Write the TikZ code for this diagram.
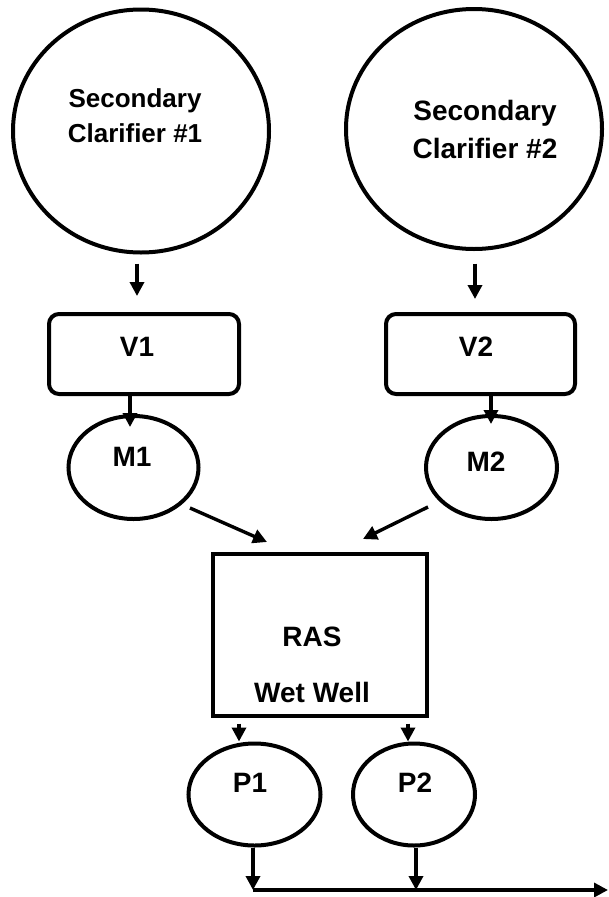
\documentclass[tikz,border=0pt]{standalone}
\usepackage{fontspec}
\setmainfont{Liberation Sans}
\usetikzlibrary{shapes.geometric,arrows.meta}
\begin{document}
\begin{tikzpicture}[x=1pt,y=1pt,
  shp/.style={draw=black,line width=4pt,inner sep=0pt,fill=white},
  oval/.style={shp,ellipse},
  vbox/.style={shp,rectangle,rounded corners=10pt},
  lbl/.style={font=\bfseries\fontsize{28}{34}\selectfont,align=center,inner sep=0pt},
  arr/.style={line width=3.4pt,-{Triangle[length=14pt,width=14pt]}}]
\useasboundingbox[fill=white] (0,0) rectangle (608,-897);
% clarifiers
\node (c1) [oval,minimum width=256pt,minimum height=243pt] at (141,-131) {};
\node (c2) [oval,minimum width=256pt,minimum height=240pt] at (474,-129) {};
\node (c1t) [lbl,font=\bfseries\fontsize{26}{35}\selectfont] at (135,-115.5) {Secondary\\Clarifier \#1};
\node (c2t) [lbl,font=\bfseries\fontsize{28}{38}\selectfont] at (485,-129) {Secondary\\Clarifier \#2};
% valves
\node (v1) [vbox,minimum width=190pt,minimum height=80pt] at (144,-354) {};
\node (v2) [vbox,minimum width=189pt,minimum height=80pt] at (480.5,-354) {};
\node (v1t) [lbl] at (137,-347) {V1};
\node (v2t) [lbl] at (476,-347) {V2};
% meters
\node (m1) [oval,minimum width=130pt,minimum height=103pt] at (133.5,-467.5) {};
\node (m2) [oval,minimum width=131pt,minimum height=103pt] at (491.5,-467.5) {};
\node (m1t) [lbl] at (132,-457) {M1};
\node (m2t) [lbl] at (486,-462) {M2};
% wet well
\node (ras) [shp,rectangle,minimum width=214pt,minimum height=162pt] at (320,-635) {};
\node (rast) [lbl] at (312,-637) {RAS};
\node (wwt) [lbl] at (312,-692) {Wet Well};
% pumps
\node (p1) [oval,minimum width=132pt,minimum height=102pt] at (254.5,-794.5) {};
\node (p2) [oval,minimum width=122pt,minimum height=102pt] at (414,-794.5) {};
\node (p1t) [lbl] at (250,-783) {P1};
\node (p2t) [lbl] at (415,-783) {P2};
% outlet
\coordinate (o1) at (253,-890);
\coordinate (o2) at (416,-890);
\coordinate (oend) at (608,-890);
% connectors
\draw[arr] ([shift={(-4,-9)}]c1.south) -- ([shift={(-7,16)}]v1.north);
\draw[arr] ([shift={(1,-12.5)}]c2.south) -- ([shift={(-5.5,13)}]v2.north);
\draw[arr] ([xshift=-14pt]v1.south) -- ([shift={(-3.5,-13)}]m1.north);
\draw[arr] ([xshift=10.5pt]v2.south) -- ([shift={(-0.5,-10)}]m2.north);
\draw[arr] ([shift={(56.5,-40.5)}]m1.center) -- ([shift={(-53,93)}]ras.center);
\draw[arr] ([shift={(-63.5,-39.5)}]m2.center) -- ([shift={(43,96)}]ras.center);
\draw[arr] ([shift={(-81,-5.5)}]ras.south) -- ([shift={(-15.5,0)}]p1.north);
\draw[arr] ([shift={(88,-5.5)}]ras.south) -- ([shift={(-6,0)}]p2.north);
\draw[arr] ([xshift=-1.5pt]p1.south) -- (o1);
\draw[arr] ([xshift=2pt]p2.south) -- (o2);
\draw[arr] (o1) -- (oend);
\end{tikzpicture}
\end{document}
